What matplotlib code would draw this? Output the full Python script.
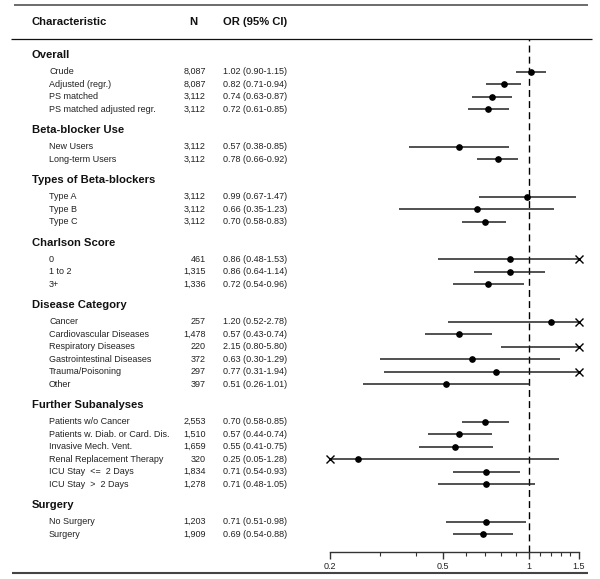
import matplotlib
matplotlib.use("Agg")
import matplotlib.pyplot as plt
from matplotlib.lines import Line2D
from matplotlib.ticker import FixedLocator, NullFormatter
from matplotlib.transforms import blended_transform_factory


GROUP_NAMES = [
    "Overall",
    "Beta-blocker Use",
    "Types of Beta-blockers",
    "Charlson Score",
    "Disease Category",
    "Further Subanalyses",
    "Surgery",
]

GROUPS = [0, 0, 0, 0, 1, 1, 2, 2, 2, 3, 3, 3, 4, 4, 4, 4, 4, 4, 5, 5, 5, 5, 5, 5, 6, 6]

LABELS = [
    "Crude", "Adjusted (regr.)", "PS matched", "PS matched adjusted regr.",
    "New Users", "Long-term Users",
    "Type A", "Type B", "Type C",
    "0", "1 to 2", "3+",
    "Cancer", "Cardiovascular Diseases", "Respiratory Diseases",
    "Gastrointestinal Diseases", "Trauma/Poisoning", "Other",
    "Patients w/o Cancer", "Patients w. Diab. or Card. Dis.", "Invasive Mech. Vent.",
    "Renal Replacement Therapy", "ICU Stay  <=  2 Days", "ICU Stay  >  2 Days",
    "No Surgery", "Surgery",
]

N_VALUES = [8087, 8087, 3112, 3112, 3112, 3112, 3112, 3112, 3112, 461, 1315, 1336,
            257, 1478, 220, 372, 297, 397, 2553, 1510, 1659, 320, 1834, 1278, 1203, 1909]

OR_VALUES = [1.02, 0.82, 0.74, 0.72, 0.57, 0.78, 0.99, 0.66, 0.70, 0.86, 0.86, 0.72,
             1.20, 0.57, 2.15, 0.63, 0.77, 0.51, 0.70, 0.57, 0.55, 0.25, 0.71, 0.71, 0.71, 0.69]

CI_LOW = [0.90, 0.71, 0.63, 0.61, 0.38, 0.66, 0.67, 0.35, 0.58, 0.48, 0.64, 0.54,
          0.52, 0.43, 0.80, 0.30, 0.31, 0.26, 0.58, 0.44, 0.41, 0.05, 0.54, 0.48, 0.51, 0.54]

CI_HIGH = [1.15, 0.94, 0.87, 0.85, 0.85, 0.92, 1.47, 1.23, 0.83, 1.53, 1.14, 0.96,
           2.78, 0.74, 5.80, 1.29, 1.94, 1.01, 0.85, 0.74, 0.75, 1.28, 0.93, 1.05, 0.98, 0.88]

X_MIN, X_MAX = 0.2, 1.5
MAJOR_TICKS = [0.2, 0.5, 1, 1.5]
MAJOR_LABELS = ["0.2", "0.5", "1", "1.5"]
MINOR_TICKS = [0.3, 0.4, 0.6, 0.7, 0.8, 0.9, 1.1, 1.2, 1.3, 1.4]

W, H = 600, 579


def fx(px):
    return px / W


def fy(py):
    return 1 - py / H


def row_positions():
    rows, headers = [], []
    y = 0
    prev = None
    for g in GROUPS:
        if prev is not None:
            y += 1 if g == prev else 3
        if g != prev:
            headers.append(y - 1.33)
        rows.append(y)
        prev = g
    return rows, headers


def hline(fig, x0, x1, y, color, lw):
    fig.add_artist(Line2D([fx(x0), fx(x1)], [fy(y), fy(y)], transform=fig.transFigure,
                          color=color, linewidth=lw, solid_capstyle="butt"))


def main():
    plt.rcParams["font.family"] = ["Liberation Sans", "DejaVu Sans"]
    fig = plt.figure(figsize=(6.0, 5.79), dpi=100)

    # plot axes: x 0.2..1.5 spans px 330.3..578.7, rows are 12.5 px apart
    top_px, bottom_px = 39, 551.7
    ax = fig.add_axes([fx(330.3), fy(bottom_px), fx(578.7 - 330.3), (bottom_px - top_px) / H])
    ax.set_xscale("log")
    ax.set_xlim(X_MIN, X_MAX)
    ax.set_ylim((bottom_px - 71.7) / 12.5, (top_px - 71.7) / 12.5)
    for side in ["left", "top", "right"]:
        ax.spines[side].set_visible(False)
    ax.spines["bottom"].set_color("#333333")
    ax.spines["bottom"].set_linewidth(1.0)
    ax.set_yticks([])
    ax.xaxis.set_major_locator(FixedLocator(MAJOR_TICKS))
    ax.xaxis.set_minor_locator(FixedLocator(MINOR_TICKS))
    ax.xaxis.set_minor_formatter(NullFormatter())
    ax.set_xticklabels(MAJOR_LABELS)
    ax.tick_params(axis="x", which="major", length=5, width=1.0, color="#333333",
                   labelsize=6.5, pad=2.5, labelcolor="#222222")
    ax.tick_params(axis="x", which="minor", length=3, width=0.8, color="#333333")

    ax.axvline(1, color="black", linewidth=1.0, linestyle=(0, (5, 3)), zorder=1)

    rows, headers = row_positions()
    for y, est, lo, hi in zip(rows, OR_VALUES, CI_LOW, CI_HIGH):
        x0 = max(lo, X_MIN)
        x1 = min(hi, X_MAX)
        ax.plot([x0, x1], [y, y], color="#222222", linewidth=1.1, zorder=2,
                solid_capstyle="butt", clip_on=False)
        if X_MIN <= est <= X_MAX:
            ax.plot(est, y, "o", color="black", markersize=3.8, zorder=3, clip_on=False)
        if hi > X_MAX:
            ax.plot(X_MAX, y, "x", color="black", markersize=5.5, markeredgewidth=1.0,
                    zorder=3, clip_on=False)
        if lo < X_MIN:
            ax.plot(X_MIN, y, "x", color="black", markersize=5.5, markeredgewidth=1.0,
                    zorder=3, clip_on=False)

    # text columns
    tr = blended_transform_factory(fig.transFigure, ax.transData)
    for y, name in zip(headers, GROUP_NAMES):
        fig.text(fx(32), y, name, transform=tr, fontsize=8.1, fontweight="bold",
                 va="center", ha="left", color="#111111")
    for y, lab, n, est, lo, hi in zip(rows, LABELS, N_VALUES, OR_VALUES, CI_LOW, CI_HIGH):
        fig.text(fx(49), y, lab, transform=tr, fontsize=6.5, va="center", ha="left",
                 color="#222222")
        fig.text(fx(206), y, f"{n:,}", transform=tr, fontsize=6.5, va="center",
                 ha="right", color="#222222")
        fig.text(fx(222.7), y, f"{est:.2f} ({lo:.2f}-{hi:.2f})", transform=tr,
                 fontsize=6.5, va="center", ha="left", color="#222222")

    # column headers and rules
    fig.text(fx(32), fy(21.7), "Characteristic", fontsize=8.1, fontweight="bold",
             va="center", ha="left", color="#111111")
    fig.text(fx(193.7), fy(21.7), "N", fontsize=8.1, fontweight="bold",
             va="center", ha="center", color="#111111")
    fig.text(fx(222.7), fy(21.7), "OR (95% CI)", fontsize=8.1, fontweight="bold",
             va="center", ha="left", color="#111111")
    hline(fig, 14, 587.5, 5, "#444444", 1.1)
    hline(fig, 11, 592, 38.7, "#111111", 0.9)
    hline(fig, 12, 588, 572.5, "#444444", 1.5)

    fig.savefig("out.png", dpi=100)
    plt.close(fig)


if __name__ == "__main__":
    main()
